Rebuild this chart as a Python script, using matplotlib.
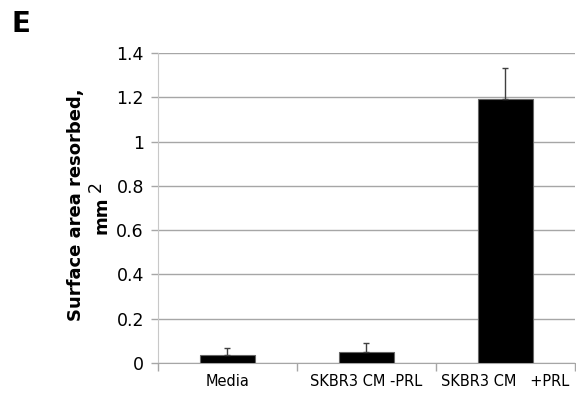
import matplotlib.pyplot as plt
import numpy as np

categories = ["Media", "SKBR3 CM -PRL", "SKBR3 CM   +PRL"]
values = [0.035, 0.048, 1.19]
errors = [0.032, 0.042, 0.14]
yticks = [0, 0.2, 0.4, 0.6, 0.8, 1, 1.2, 1.4]
ytick_labels = ["0", "0.2", "0.4", "0.6", "0.8", "1", "1.2", "1.4"]

fig = plt.figure(figsize=(5.76, 3.93), dpi=100)
ax = fig.add_axes([0.274, 0.0763, 0.724, 0.789])

x = np.arange(len(categories))
ax.bar(x, values, width=0.4, color="black", edgecolor="#666666", linewidth=0.8, zorder=3)
ax.errorbar(x, values, yerr=[np.zeros(len(errors)), errors], fmt="none",
            ecolor="#404040", elinewidth=1, capsize=2, capthick=1, zorder=4)

ax.set_xlim(-0.5, 2.5)
ax.set_ylim(0, 1.4)
ax.set_yticks(yticks)
ax.set_yticklabels(ytick_labels, fontsize=12.5)
ax.yaxis.grid(True, color="#a6a6a6", linewidth=1)
ax.set_axisbelow(True)

# category boundary ticks on the bottom axis
ax.set_xticks([-0.5, 0.5, 1.5, 2.5])
ax.set_xticklabels([])
ax.tick_params(axis="x", length=6, color="#a6a6a6", width=1)
ax.tick_params(axis="y", length=5, color="#a6a6a6", width=1, pad=5)
for i, c in enumerate(categories):
    ax.text(i, -0.05, c, ha="center", va="top", fontsize=10.5)

for s in ["top", "right"]:
    ax.spines[s].set_visible(False)
ax.spines["left"].set_color("#c8c8c8")
ax.spines["bottom"].set_color("#a6a6a6")

fig.text(76 / 576, 1 - 205 / 393, "Surface area resorbed,", rotation=90,
         ha="center", va="center", fontsize=13, fontweight="bold")
fig.text(102 / 576, 1 - 215 / 393, "mm", rotation=90,
         ha="center", va="center", fontsize=13, fontweight="bold")
fig.text(96 / 576, 1 - 187 / 393, "2", rotation=90,
         ha="center", va="center", fontsize=12.5)
fig.text(11 / 576, 1 - 24 / 393, "E", ha="left", va="center",
         fontsize=20, fontweight="bold")

fig.savefig("out.png", dpi=100)
